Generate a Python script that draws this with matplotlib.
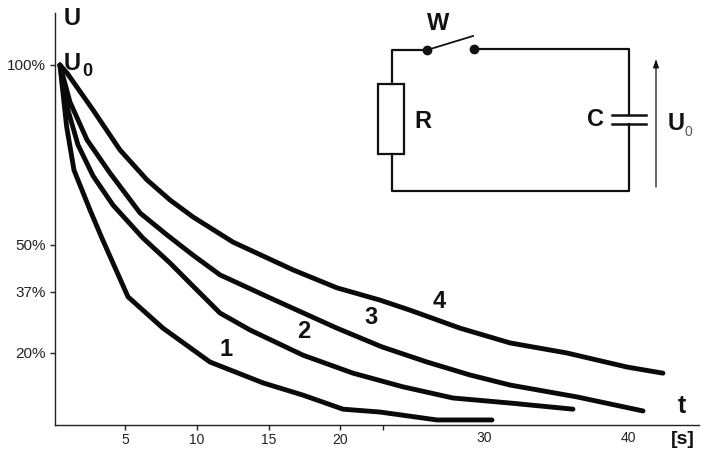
import matplotlib
matplotlib.use("Agg")
import matplotlib.pyplot as plt
from matplotlib.patches import Rectangle

plt.rcParams['font.family'] = ['Liberation Sans', 'DejaVu Sans']

# Curves: time [s], voltage [%]
t1 = [0.38, 0.85, 1.36, 2.48, 3.31, 5.13, 7.57, 10.85, 14.55, 17.34, 20.13, 22.71, 26.69, 30.53]
u1 = [100, 82.8, 70.8, 59.7, 51.9, 35.6, 26.9, 17.5, 11.7, 8.3, 4.4, 3.6, 1.4, 1.4]
t2 = [0.38, 0.94, 1.64, 2.69, 4.08, 6.18, 8.06, 9.46, 11.55, 13.64, 17.34, 20.83, 24.32, 27.81, 31.79, 36.18]
u2 = [100, 87.5, 77.8, 69.2, 61.1, 51.9, 45, 39.4, 31.1, 26.4, 19.4, 14.4, 10.6, 7.5, 6.1, 4.4]
t3 = [0.38, 1.08, 2.27, 3.87, 5.97, 7.85, 9.66, 11.55, 15.04, 19.71, 22.85, 25.99, 28.99, 31.79, 36.46, 41.07]
u3 = [100, 89.7, 79.2, 70, 58.9, 52.8, 47.2, 41.7, 35.3, 26.9, 21.7, 17.5, 13.9, 11.1, 7.8, 3.9]
t4 = [0.38, 0.87, 2.69, 4.57, 6.45, 8.06, 9.66, 12.46, 16.64, 19.71, 22.71, 24.81, 28.3, 31.79, 35.76, 39.95, 42.46]
u4 = [100, 97.8, 87.5, 76.4, 68.1, 62.5, 57.8, 50.8, 43.1, 38.1, 34.7, 31.9, 26.9, 22.8, 20, 16.1, 14.4]
series = [(t1, u1), (t2, u2), (t3, u3), (t4, u4)]
series_names = ['1', '2', '3', '4']

y_ticks = [100, 50, 37, 20]
y_labels = ['100%', '50%', '37%', '20%']
x_ticks = [4.95, 9.95, 14.95, 19.9, 22.9]
x_labels = ['5', '10', '15', '20', '']
x_extra = [30, 40]

W, H = 708, 463
fig = plt.figure(figsize=(W / 100, H / 100), dpi=100, facecolor='white')

L, R_, T, B = 54.5, 699, 13, 425
ax = fig.add_axes([L / W, 1 - B / H, (R_ - L) / W, (B - T) / H])
ax.set_xlim(0, (R_ - L) / 14.33)
ax.set_ylim(0, (B - T) / 3.6)
ax.patch.set_alpha(0)
for s in ('top', 'right'):
    ax.spines[s].set_visible(False)
for s in ('left', 'bottom'):
    ax.spines[s].set_linewidth(1.0)
    ax.spines[s].set_color('#222222')

for t, u in series:
    ax.plot(t, u, color='#0a0a0a', lw=3.5, solid_capstyle='round', solid_joinstyle='round',
            clip_on=False, zorder=3)

ax.set_yticks(y_ticks)
ax.set_yticklabels(y_labels, fontsize=11, color='#222222')
ax.set_xticks(x_ticks)
ax.set_xticklabels(x_labels, fontsize=10, color='#222222')
ax.tick_params(axis='both', length=3.5, width=1, color='#222222')
ax.tick_params(axis='x', pad=2)
ax.tick_params(axis='y', pad=2.5)

# Overlay in pixel coordinates for the circuit and labels
ov = fig.add_axes([0, 0, 1, 1])
ov.set_xlim(0, W)
ov.set_ylim(H, 0)
ov.axis('off')
ov.patch.set_alpha(0)

for x_val, px in zip(x_extra, [484, 628]):
    ov.text(px, 438, str(x_val), fontsize=10, color='#222222', ha='center', va='center')

bold = dict(fontweight='bold', color='#111111', ha='center', va='center')
ov.text(72.5, 18.5, 'U', fontsize=17, **bold)
ov.text(72.5, 64, 'U', fontsize=17, **bold)
ov.text(87, 71, '0', fontsize=13, **bold)
for name, (x, y) in zip(series_names, [(226, 349), (304, 332), (371, 318), (439, 301)]):
    ov.text(x, y, name, fontsize=17, **bold)
ov.text(682, 406, 't', fontsize=18, **bold)
ov.text(683, 439, '[s]', fontsize=14, **bold)

# Circuit
wire = dict(color='#111111', lw=1.6, solid_capstyle='projecting')
ov.plot([427, 392, 392], [50, 50, 84], **wire)
ov.plot([392, 392, 629, 629], [154, 191, 191, 124], **wire)
ov.plot([629, 629, 474], [115, 49, 49], **wire)
ov.add_patch(Rectangle((377.5, 84), 26.5, 70, fc='white', ec='#111111', lw=1.6))
ov.plot([427, 473], [50, 36], color='#111111', lw=1.3)
ov.plot([427, 474], [50, 49], 'o', color='#111111', ms=6, ls='none')
ov.plot([612, 646], [115, 115], color='#111111', lw=1.8)
ov.plot([612, 646], [124, 124], color='#111111', lw=1.8)
ov.annotate('', xy=(656, 59), xytext=(656, 187),
            arrowprops=dict(arrowstyle='-|>,head_width=0.17,head_length=0.5', color='#111111', lw=0.9,
                            shrinkA=0, shrinkB=0))
ov.text(438, 24, 'W', fontsize=17, **bold)
ov.text(423, 122, 'R', fontsize=17, **bold)
ov.text(595, 120, 'C', fontsize=17, **bold)
ov.text(676, 123, 'U', fontsize=17, **bold)
ov.text(688, 132, '0', fontsize=10, color='#555555', ha='center', va='center')

fig.savefig('out.png', dpi=100, facecolor='white')
